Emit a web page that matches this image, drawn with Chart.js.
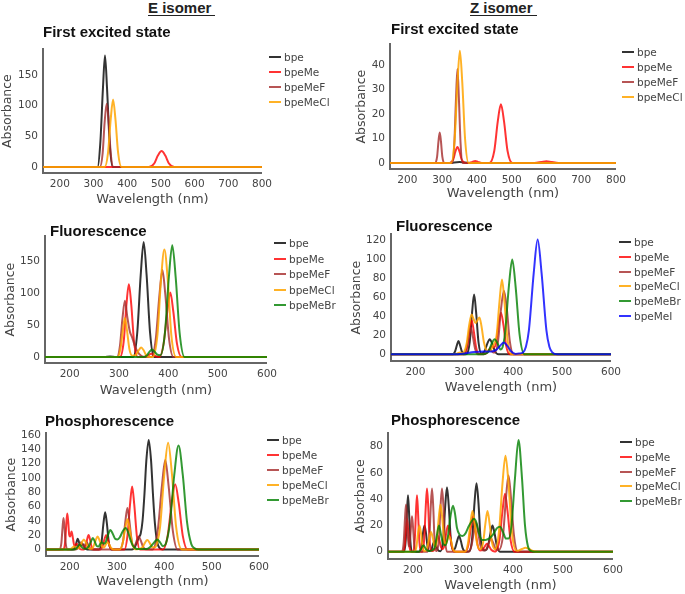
<!DOCTYPE html>
<html><head><meta charset="utf-8">
<script src="https://cdn.jsdelivr.net/npm/chart.js@4.4.1/dist/chart.umd.min.js"></script>
<style>
body{margin:0;background:#fff;width:685px;height:594px;position:relative;overflow:hidden;font-family:"DejaVu Sans",sans-serif;}
.iso{position:absolute;top:0;font:bold 15px "Liberation Sans",Arial,sans-serif;color:#222;line-height:15px;border-bottom:1.5px solid #222;padding-right:4px;}
.ttl{position:absolute;font:bold 15px "Liberation Sans",Arial,sans-serif;color:#111;line-height:18px;white-space:nowrap}
.leg{position:absolute;font:10.5px "DejaVu Sans",sans-serif;color:#444;}
.leg div{position:absolute;left:0;white-space:nowrap;line-height:12px;height:12px}
.leg span.l{position:absolute;left:0;top:5px;width:12px;height:2px}
.leg span.t{position:absolute;left:15px;top:0}
canvas{position:absolute}
</style></head><body>
<div class="iso" style="left:148px">E isomer</div>
<div class="iso" style="left:470px">Z isomer</div>
<script>
// ---------- tick labels ----------
const xTicks800 = [200,300,400,500,600,700,800];
const xTicks600 = [200,300,400,500,600];
const yTicksEAbs = [0,50,100,150];
const yTicksZAbs = [0,10,20,30,40];
const yTicksEFl = [0,50,100,150];
const yTicksZFl = [0,20,40,60,80,100,120];
const yTicksEPh = [0,20,40,60,80,100,120,140,160];
const yTicksZPh = [0,20,40,60,80];

// ---------- E isomer, first excited state ([wavelength nm, absorbance]) ----------
const eAbsBpe = [[150,0],[312,0],[320,38],[328,129],[334,182],[340,129],[348,38],[357,0],[800,0]];
const eAbsBpeMe = [[150,0],[464,0],[480,5.5],[491,18.5],[502,26],[513,18.5],[524,5.5],[540,0],[800,0]];
const eAbsBpeMeF = [[150,0],[319,0],[327,22],[333,73],[339,103],[345,73],[351,22],[359,0],[800,0]];
const eAbsBpeMeCl = [[150,0],[333,0],[343,23],[351,78],[358,110],[365,78],[373,23],[383,0],[800,0]];

// ---------- Z isomer, first excited state ----------
const zAbsBpe = [[150,0],[320,0],[350,0.4],[380,0],[800,0]];
const zAbsBpeMe = [[150,0],[322,0],[332,1.4],[338,4.6],[344,6.5],[350,4.6],[356,1.4],[366,0],[376,0],[387,0.4],[395,0.8],[403,0.4],[414,0],[436,0],[450,5],[460,17],[469,24],[478,17],[488,5],[502,0],[565,0],[585,0.35],[600,0.7],[615,0.35],[635,0],[800,0]];
const zAbsBpeMeF = [[150,0],[280,0],[285.5,2.6],[289.5,8.9],[293,12.5],[296.5,8.9],[300.5,2.6],[306,0],[329,0],[335,8],[340,27],[344,38.5],[348,27],[353,8],[359,0],[800,0]];
const zAbsBpeMeCl = [[150,0],[326,0],[336,9.7],[344,32.7],[351,46],[358,32.7],[366,9.7],[376,0],[800,0]];

// ---------- E isomer, fluorescence ----------
const eFlBpe = [[150,0],[270,0],[282,1],[294,0],[329,0],[337,38],[344,128],[350,180],[356,128],[363,38],[371,0],[600,0]];
const eFlBpeMe = [[150,0],[302,0],[309.5,24],[315,81],[320,114],[325,81],[330.5,24],[338,0],[350,0],[358,2],[365,5],[372,2],[382,0],[390.5,21],[398,72],[404,101],[410,72],[417.5,21],[427,0],[600,0]];
const eFlBpeMeF = [[150,0],[296,0],[302,18],[307,60],[312,88],[317,62],[322,40],[327,30],[332,18],[338,8],[345,2],[352,0],[366,0],[374.5,28],[382,97],[388,136],[394,97],[401.5,28],[410.5,0],[600,0]];
const eFlBpeMeCl = [[150,0],[297,0],[303,13],[308,43],[312,61],[316,43],[321,13],[327,2],[335,4],[340,10.6],[345,15],[350,10.6],[355,3],[362,0],[368,0],[378,35],[385,119],[392,168],[399,119],[406,35],[416,0],[600,0]];
const eFlBpeMeBr = [[150,0],[349,0],[356.5,2.5],[362,8.5],[367,12],[372,8.5],[378,3.5],[384,3],[393,37],[401,124],[408,175],[415,124],[423,37],[433,0],[600,0]];

// ---------- Z isomer, fluorescence ----------
const zFlBpe = [[150,0],[276,0],[281,3],[285,10],[288,14],[291,10],[295,3],[300,0],[305,0.5],[311,13],[316,45],[320,63],[324,45],[329,13],[335,1],[341.5,3.4],[347,11.4],[352,16],[357,11.4],[362.5,3.4],[370,0],[600,0]];
const zFlBpeMe = [[150,0],[300,0],[306,7.6],[311,25.6],[315,36],[319,25.6],[324,7.6],[330,0.5],[341,0.5],[347,2],[352,6],[356,8.5],[360,7.5],[364.5,11],[370,31],[375,44],[380,31],[385.5,9.2],[393,0],[600,0]];
const zFlBpeMeF = [[150,0],[298,0],[304,6],[309,20],[313,28],[317,20],[322,6],[328,0],[340,0],[346,2],[352,5],[358,2.5],[362,2],[369,14],[375,47.6],[381,67],[387,47.6],[393,14],[401,0],[600,0]];
const zFlBpeMeCl = [[150,0],[280,0],[286,1],[291,2],[296,1.5],[300,3],[305,12],[310,31],[315,42],[319,37],[323,33],[327,36],[331,39],[335,30],[340,13],[346,4],[352,3.5],[359,9.4],[366,20],[372,56],[377,79],[382,56],[388,17],[396,0],[600,0]];
const zFlBpeMeBr = [[150,0],[335,0],[342,0.5],[350,3.4],[356,11.4],[362,16],[368,11.5],[374,5.2],[378,7.3],[383,21],[391,71],[398,100],[405,71],[413,21],[423,0],[600,0]];
const zFlBpeMeI = [[150,0],[280,0],[300,1],[320,2.5],[340,3],[356,3],[366,5],[374,9.5],[381,12.5],[388,9],[396,3],[405,0.5],[412,0.8],[420,2],[426,8],[432,25],[442,86],[450,121],[458,86],[468,25],[474,8],[480,2],[490,0],[600,0]];

// ---------- E isomer, phosphorescence ----------
const ePhBpe = [[150,0],[205,0],[210,1],[213,6],[217,15],[220,9.5],[222,5.5],[224,6],[227,8],[230,4.8],[233,1],[237,0],[262,0],[267.5,11],[271.5,37],[275,52],[278.5,37],[282.5,11],[288,0],[332,0],[338,3.8],[342,10],[346,16.6],[350,22],[354,40],[358,77],[362,124],[367,153],[372,124],[376,77],[380,37],[385,10],[390,1.7],[396,0],[600,0]];
const ePhBpeMe = [[150,0],[186,0],[188,1],[191,14.5],[193,37],[195,50],[197,38],[199,20.5],[201,18],[204,25],[207,15],[210,5.2],[212,5.5],[215,8],[218,4.8],[222,0.5],[226,0],[230,0],[234,4.2],[237,14.2],[240,20],[243,14.2],[246,4.2],[250,0],[264,0],[269.5,4.2],[273.5,14.2],[277,20],[280.5,14.2],[284.5,4.2],[290,0],[316,0],[322,18.5],[327.5,62.5],[332,88],[336.5,62.5],[342,18.5],[348,0],[397,0],[407,19],[415.5,64.6],[423,91],[430.5,64.6],[439,19],[449,0],[600,0]];
const ePhBpeMeF = [[150,0],[179,0],[182.5,9.2],[185,31],[187,44],[189,31],[191.5,9.2],[195,0],[212,0],[218,2.1],[221,6.8],[224,10],[227,7],[230,4.2],[233,7],[236,10],[239,6.8],[242,2.1],[247,0],[306,0],[313,12.2],[318,41],[322,58],[326,41],[331,12.4],[334,4.7],[337,4.6],[342,12.8],[346,18],[350,12.8],[355,3.8],[361,0.2],[375,0],[386,26],[395,89],[402,125],[409,89],[418,26],[428,0],[600,0]];
const ePhBpeMeCl = [[150,0],[200,0],[205,2],[210,4],[215,2],[219,1.8],[222,4],[226,10],[230,14],[234,10],[238,4],[241,1.5],[245,0.8],[249,2.5],[255,12.8],[259,18],[263,12.8],[268,4.5],[272.5,2.6],[276.5,7.1],[280,10],[283.5,7.1],[287.5,2.1],[293,0],[306,0],[312,8.8],[317.5,29.8],[322,42],[326.5,29.8],[332,8.8],[338,0.2],[346,0.5],[353.5,2.7],[359,9.2],[364,13],[369,9.2],[374.5,3.1],[380,2.9],[385,9.3],[391,31],[400,106],[408,149],[416,106],[425,31],[437,0],[600,0]];
const ePhBpeMeBr = [[150,0],[210,0],[215,2],[221,7],[226,3],[231,1],[237,2],[241,5],[245,11],[249,16],[253,11],[257,5],[261,4],[264,7],[268,10],[272,8],[276,10],[281,20],[286,27],[291,22],[296,15],[301,14],[306,17],[312,25],[318,30],[323,25],[328,14],[333,6],[339,1.5],[345,0.5],[358,0.5],[365,1],[372,4.5],[379,10],[385,14],[391,9.8],[397,4.5],[403,7.8],[412,38],[421,104],[430,145],[439,104],[448,38],[457,7.4],[464,1.5],[472,0],[600,0]];

// ---------- Z isomer, phosphorescence ----------
const zPhBpe = [[150,0],[182,0],[185.5,9],[188,30.5],[190,43],[192,30.5],[194.5,9],[198,0],[213,0],[217,4.2],[220,14.2],[223,20],[226,14.2],[229,4.2],[233,0.5],[237,1.7],[240,5.7],[243,8],[246,5.7],[249,1.7],[255,0.3],[260.5,10.3],[264.5,35],[268,49],[271.5,35],[275.5,10.3],[280,1],[284.5,3],[288.5,8.5],[292,12],[295.5,8.5],[299.5,2.5],[305,0],[313,0.5],[318.5,11],[323,37],[327,52],[331,37],[335,11],[340,2],[344,1],[350,4.2],[355,14.2],[359,20],[363,14.2],[368,4.2],[374,0],[600,0]];
const zPhBpeMe = [[150,0],[180,0],[183.5,5.2],[186,17.7],[188,25],[190,17.7],[192.5,5.2],[196,0],[200,0],[203.5,9],[206,30.5],[208,43],[210,30.5],[212.5,9],[216,0],[219,0],[222.5,10],[225.5,34],[228,48],[230.5,34],[233,10],[237,0.5],[244,2.5],[247,8.5],[250,12],[253,8.5],[256,3.5],[259,2],[262.5,4.5],[266.5,14.2],[270,20],[273.5,14.2],[277.5,4.2],[283,0],[305,0],[311,5.7],[316,19],[320,27],[324,19],[329,5.7],[334,1],[339,1.5],[344,4.3],[348,6],[352,4.3],[357,1.3],[363,0.2],[366,0.5],[373,9.2],[379,31],[384,44],[389,31],[395,9.2],[403,0],[600,0]];
const zPhBpeMeF = [[150,0],[178,0],[181.5,7.6],[184,25.5],[186,36],[188,25.5],[190.5,8],[192,4],[193.5,5.9],[196,19],[198,27],[200,19],[202.5,5.7],[206,0],[229,0],[232.75,10],[235.5,34],[238,48],[240.5,34],[243,10],[247.5,0.5],[252,10],[255,34],[258,48],[261,34],[264,10],[268,0],[311,0],[317,4.6],[322,15.6],[326,22],[330,15.6],[335,4.6],[341,1],[347,2.1],[352,7.1],[356,10],[360,7.1],[365,2.5],[368,1.5],[372,1.5],[380,12.2],[386,41],[391,58],[396,41],[402,12.2],[410,0],[600,0]];
const zPhBpeMeCl = [[150,0],[203,0],[207,4.2],[210,14.2],[213,20],[216,14.2],[219,4.2],[223,0.5],[228.5,3.2],[232.5,10.6],[236,15],[239.5,10.6],[243.5,4.1],[245,3.9],[247.5,8],[251.5,25.6],[255,36],[258.5,25.6],[262.5,8.5],[266,6],[268,8],[272,12],[276,8.5],[280,2],[286,0],[304,0],[310,6.5],[315,22],[319,31],[323,22],[328,6.5],[334,2],[340,6.5],[345,22],[349,31],[353,22],[358,7],[364,2],[372,15.3],[379,52],[385,73],[391,52],[397.6,15.6],[406,1],[410,0.8],[418,2.1],[425,3],[432,2.1],[440,0.6],[450,0],[600,0]];
const zPhBpeMeBr = [[150,0],[212,0],[216,2],[221,5],[226,2],[231,0.5],[238,1],[244,4],[248,13],[252,20],[256,13],[260,6],[265,5],[270,12],[275,27],[280,35],[284,29],[288,18],[293,13],[299,12],[305,14],[311,19],[317,23],[322,25],[327,22],[332,14],[338,9],[345,9],[352,10],[360,13],[368,18],[374,19],[380,15],[386,10],[391,10],[397,20],[404,56],[411,85],[418,56],[424,20],[430,4],[437,0.4],[443,0],[600,0]];

// ---------- styles ----------
const seriesColors = {
  bpe:'rgba(0,0,0,0.8)', bpeMe:'rgba(255,0,0,0.8)', bpeMeF:'rgba(165,42,42,0.8)',
  bpeMeCl:'rgba(255,165,0,0.85)', bpeMeBr:'rgba(0,128,0,0.8)', bpeMeI:'rgba(0,0,255,0.8)'
};

const panels = [
  {title:'First excited state', series:{bpe:eAbsBpe,bpeMe:eAbsBpeMe,bpeMeF:eAbsBpeMeF,bpeMeCl:eAbsBpeMeCl},
   xTicks:xTicks800, yTicks:yTicksEAbs, xMin:150, xMax:800, yMin:-10, yMax:192,
   cv:{l:0,t:38,r:277,b:207}, ca:{l:43,t:48,r:262,b:173}, tt:{x:43,y:23}, lg:{x:269,y:51,dy:15}},
  {title:'First excited state', series:{bpe:zAbsBpe,bpeMe:zAbsBpeMe,bpeMeF:zAbsBpeMeF,bpeMeCl:zAbsBpeMeCl},
   xTicks:xTicks800, yTicks:yTicksZAbs, xMin:150, xMax:800, yMin:-2.5, yMax:48.6,
   cv:{l:354,t:33,r:631,b:201}, ca:{l:390,t:43,r:616,b:169}, tt:{x:391,y:20}, lg:{x:622,y:46,dy:15}},
  {title:'Fluorescence', series:{bpe:eFlBpe,bpeMe:eFlBpeMe,bpeMeF:eFlBpeMeF,bpeMeCl:eFlBpeMeCl,bpeMeBr:eFlBpeMeBr},
   xTicks:xTicks600, yTicks:yTicksEFl, xMin:150, xMax:600, yMin:-9.3, yMax:188.8,
   cv:{l:3,t:225,r:282,b:398}, ca:{l:45,t:235,r:267,b:363}, tt:{x:50,y:222}, lg:{x:274,y:237,dy:15.6}},
  {title:'Fluorescence', series:{bpe:zFlBpe,bpeMe:zFlBpeMe,bpeMeF:zFlBpeMeF,bpeMeCl:zFlBpeMeCl,bpeMeBr:zFlBpeMeBr,bpeMeI:zFlBpeMeI},
   xTicks:xTicks600, yTicks:yTicksZFl, xMin:150, xMax:600, yMin:-7, yMax:126.6,
   cv:{l:349,t:223,r:626,b:395}, ca:{l:391,t:233,r:611,b:361}, tt:{x:396,y:217}, lg:{x:619,y:236,dy:14.75}},
  {title:'Phosphorescence', series:{bpe:ePhBpe,bpeMe:ePhBpeMe,bpeMeF:ePhBpeMeF,bpeMeCl:ePhBpeMeCl,bpeMeBr:ePhBpeMeBr},
   xTicks:xTicks600, yTicks:yTicksEPh, xMin:150, xMax:600, yMin:-9.2, yMax:162.2,
   cv:{l:4,t:422,r:274,b:589}, ca:{l:46,t:432,r:259,b:556}, tt:{x:45,y:412}, lg:{x:267,y:434,dy:14.9}},
  {title:'Phosphorescence', series:{bpe:zPhBpe,bpeMe:zPhBpeMe,bpeMeF:zPhBpeMeF,bpeMeCl:zPhBpeMeCl,bpeMeBr:zPhBpeMeBr},
   xTicks:xTicks600, yTicks:yTicksZPh, xMin:150, xMax:600, yMin:-5.5, yMax:90,
   cv:{l:353,t:422,r:628,b:593}, ca:{l:388,t:432,r:613,b:559}, tt:{x:391,y:411}, lg:{x:620,y:436,dy:14.75}}
];

Chart.defaults.font.family = '"DejaVu Sans", sans-serif';

panels.forEach((p, pi) => {
  const cv = document.createElement('canvas');
  const W = p.cv.r - p.cv.l, H = p.cv.b - p.cv.t;
  cv.width = W; cv.height = H;
  cv.style.left = p.cv.l + 'px'; cv.style.top = p.cv.t + 'px';
  cv.style.width = W + 'px'; cv.style.height = H + 'px';
  document.body.appendChild(cv);

  const names = Object.keys(p.series);
  const datasets = names.map((n, i) => ({
    label: n,
    data: p.series[n].map(pt => ({x: pt[0], y: pt[1]})),
    borderColor: seriesColors[n],
    backgroundColor: seriesColors[n],
    borderWidth: 2,
    pointRadius: 0,
    fill: false,
    cubicInterpolationMode: 'monotone',
    order: names.length - i
  }));

  const yW = p.ca.l - p.cv.l, xH = p.cv.b - p.ca.b;
  new Chart(cv, {
    type: 'line',
    data: {datasets},
    options: {
      responsive: false, animation: false, devicePixelRatio: 1,
      layout: {padding: {top: p.ca.t - p.cv.t, right: p.cv.r - p.ca.r, left: 0, bottom: 0}},
      plugins: {legend: {display: false}, tooltip: {enabled: false}, title: {display: false}},
      scales: {
        x: {
          type: 'linear', min: p.xMin, max: p.xMax,
          grid: {display: false, drawTicks: false},
          border: {display: true, color: '#666', width: 2},
          ticks: {color: '#444', font: {size: 10.5}, padding: 5, maxRotation: 0, autoSkip: false},
          afterBuildTicks: s => { s.ticks = p.xTicks.map(v => ({value: v})); },
          afterFit: s => { s.height = xH; },
          title: {display: true, text: 'Wavelength (nm)', color: '#444', font: {size: 13}, padding: 0}
        },
        y: {
          type: 'linear', min: p.yMin, max: p.yMax,
          grid: {display: false, drawTicks: false},
          border: {display: true, color: '#666', width: 2},
          ticks: {color: '#444', font: {size: 10.5}, padding: 5, autoSkip: false},
          afterBuildTicks: s => { s.ticks = p.yTicks.map(v => ({value: v})); },
          afterFit: s => { s.width = yW; },
          title: {display: true, text: 'Absorbance', color: '#444', font: {size: 12.5}, padding: 0}
        }
      }
    }
  });

  const t = document.createElement('div');
  t.className = 'ttl'; t.textContent = p.title;
  t.style.left = p.tt.x + 'px'; t.style.top = p.tt.y + 'px';
  document.body.appendChild(t);

  const lg = document.createElement('div');
  lg.className = 'leg';
  lg.style.left = p.lg.x + 'px'; lg.style.top = p.lg.y + 'px';
  names.forEach((n, i) => {
    const row = document.createElement('div');
    row.style.top = (i * p.lg.dy) + 'px';
    row.innerHTML = '<span class="l" style="background:' + seriesColors[n] + '"></span><span class="t">' + n + '</span>';
    lg.appendChild(row);
  });
  document.body.appendChild(lg);
});
</script>
</body></html>
